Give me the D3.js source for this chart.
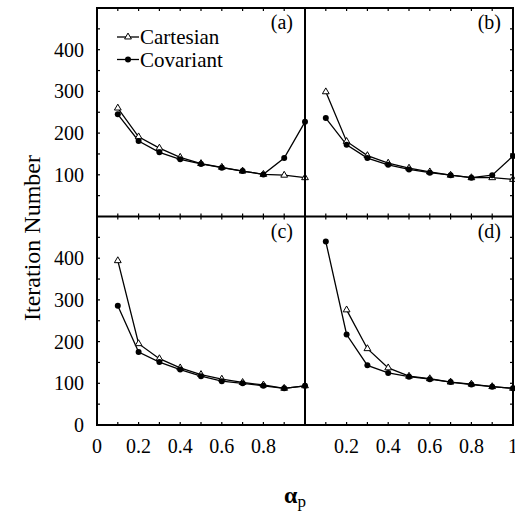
<!DOCTYPE html>
<html>
<head>
<meta charset="utf-8">
<script src="https://cdn.jsdelivr.net/npm/d3@7"></script>
<style>
  body { margin: 0; background: #fff; }
  text { font-family: "Liberation Serif", "DejaVu Serif", serif; fill: #000; }
</style>
</head>
<body>
<div id="chart"></div>
<script>
// alpha_p values (x) shared by all four panels
var alphaValues = [0.1, 0.2, 0.3, 0.4, 0.5, 0.6, 0.7, 0.8, 0.9, 1.0];

// iteration numbers, one pair of series per panel
var cartesianA = [260, 191, 164, 142, 127, 118, 109, 101, 99, 93];
var covariantA = [245, 181, 154, 137, 126, 117, 109, 101, 140, 227];
var cartesianB = [299, 180, 146, 128, 116, 107, 99, 93, 93, 89];
var covariantB = [236, 172, 140, 124, 113, 105, 99, 93, 99, 145];
var cartesianC = [394, 195, 159, 137, 121, 110, 102, 96, 88, 94];
var covariantC = [286, 175, 151, 133, 117, 105, 100, 94, 88, 94];
var cartesianD = [null, 276, 183, 137, 117, 111, 103, 98, 92, 88];
var covariantD = [440, 217, 143, 125, 116, 110, 103, 97, 92, 88];

var panelLabels = ["(a)", "(b)", "(c)", "(d)"];
var seriesNames = ["Cartesian", "Covariant"];
var yTickLabels = [100, 200, 300, 400];
var xTickLabelsLeft = [0, 0.2, 0.4, 0.6, 0.8];
var xTickLabelsRight = [0.2, 0.4, 0.6, 0.8, 1];

var width = 515, height = 516;
var frameLeft = 97, frameTop = 8, panelW = 208, panelH = 208.5;

var svg = d3.select("#chart").append("svg")
    .attr("width", width)
    .attr("height", height);

var panels = [
    {col: 0, row: 0, cart: cartesianA, cov: covariantA, label: panelLabels[0]},
    {col: 1, row: 0, cart: cartesianB, cov: covariantB, label: panelLabels[1]},
    {col: 0, row: 1, cart: cartesianC, cov: covariantC, label: panelLabels[2]},
    {col: 1, row: 1, cart: cartesianD, cov: covariantD, label: panelLabels[3]}
];

var triangle = d3.symbol().type(d3.symbolTriangle).size(20);

panels.forEach(function (p) {
    var x0 = frameLeft + p.col * panelW;
    var y0 = frameTop + p.row * panelH;

    var xScale = d3.scaleLinear().domain([0, 1]).range([x0, x0 + panelW]);
    var yScale = d3.scaleLinear().domain([0, 500]).range([y0 + panelH, y0]);

    var g = svg.append("g");

    // inward ticks on all four sides
    var xt = d3.range(1, 10).map(function (i) { return i / 10; });
    var yt = d3.range(1, 10).map(function (i) { return i * 50; });
    g.selectAll(".xtb").data(xt).enter().append("line")
        .attr("x1", function (d) { return xScale(d); })
        .attr("x2", function (d) { return xScale(d); })
        .attr("y1", y0 + panelH).attr("y2", y0 + panelH - 3)
        .attr("stroke", "#000").attr("stroke-width", 1.2);
    g.selectAll(".xtt").data(xt).enter().append("line")
        .attr("x1", function (d) { return xScale(d); })
        .attr("x2", function (d) { return xScale(d); })
        .attr("y1", y0).attr("y2", y0 + 3)
        .attr("stroke", "#000").attr("stroke-width", 1.2);
    var sideX = p.col === 0 ? x0 : x0 + panelW;
    var dir = p.col === 0 ? 3 : -3;
    g.selectAll(".yt").data(yt).enter().append("line")
        .attr("x1", sideX).attr("x2", sideX + dir)
        .attr("y1", function (d) { return yScale(d); })
        .attr("y2", function (d) { return yScale(d); })
        .attr("stroke", "#000").attr("stroke-width", 1.2);

    // lines
    var line = d3.line()
        .defined(function (d) { return d[1] !== null; })
        .x(function (d) { return xScale(d[0]); })
        .y(function (d) { return yScale(d[1]); });

    var cartPts = alphaValues.map(function (a, i) { return [a, p.cart[i]]; });
    var covPts = alphaValues.map(function (a, i) { return [a, p.cov[i]]; });

    g.append("path").datum(cartPts).attr("d", line)
        .attr("fill", "none").attr("stroke", "#000").attr("stroke-width", 1.3);
    g.append("path").datum(covPts).attr("d", line)
        .attr("fill", "none").attr("stroke", "#000").attr("stroke-width", 1.3);

    g.selectAll(".tri").data(cartPts.filter(function (d) { return d[1] !== null; }))
        .enter().append("path")
        .attr("d", triangle)
        .attr("transform", function (d) { return "translate(" + xScale(d[0]) + "," + yScale(d[1]) + ")"; })
        .attr("fill", "#fff").attr("stroke", "#000").attr("stroke-width", 1);
    g.selectAll(".dot").data(covPts)
        .enter().append("circle")
        .attr("cx", function (d) { return xScale(d[0]); })
        .attr("cy", function (d) { return yScale(d[1]); })
        .attr("r", 3)
        .attr("fill", "#000");

    g.append("text")
        .attr("x", x0 + panelW - 12)
        .attr("y", y0 + 21)
        .attr("text-anchor", "end")
        .attr("font-size", 20)
        .text(p.label);

    // y tick labels for left column
    if (p.col === 0) {
        var ylabels = p.row === 1 ? [0].concat(yTickLabels) : yTickLabels;
        g.selectAll(".yl").data(ylabels).enter().append("text")
            .attr("x", x0 - 13)
            .attr("y", function (d) { return yScale(d); })
            .attr("dy", "0.35em")
            .attr("text-anchor", "end")
            .attr("font-size", 20)
            .text(function (d) { return d; });
    }

    // x tick labels for bottom row
    if (p.row === 1) {
        var xlabels = p.col === 0 ? xTickLabelsLeft : xTickLabelsRight;
        g.selectAll(".xl").data(xlabels).enter().append("text")
            .attr("x", function (d) { return xScale(d); })
            .attr("y", y0 + panelH + 28)
            .attr("text-anchor", "middle")
            .attr("font-size", 20)
            .text(function (d) { return d; });
    }
});

// frame and dividing lines
svg.append("rect")
    .attr("x", frameLeft).attr("y", frameTop)
    .attr("width", 2 * panelW).attr("height", 2 * panelH)
    .attr("fill", "none").attr("stroke", "#000").attr("stroke-width", 2);
svg.append("line")
    .attr("x1", frameLeft + panelW).attr("x2", frameLeft + panelW)
    .attr("y1", frameTop).attr("y2", frameTop + 2 * panelH)
    .attr("stroke", "#000").attr("stroke-width", 2);
svg.append("line")
    .attr("x1", frameLeft).attr("x2", frameLeft + 2 * panelW)
    .attr("y1", frameTop + panelH).attr("y2", frameTop + panelH)
    .attr("stroke", "#000").attr("stroke-width", 2);

// legend in panel (a)
var legend = svg.append("g");
seriesNames.forEach(function (name, i) {
    var ly = 37 + i * 22.5;
    legend.append("line")
        .attr("x1", 117).attr("x2", 139)
        .attr("y1", ly).attr("y2", ly)
        .attr("stroke", "#000").attr("stroke-width", 1.3);
    if (i === 0) {
        legend.append("path").attr("d", triangle)
            .attr("transform", "translate(128," + ly + ")")
            .attr("fill", "#fff").attr("stroke", "#000").attr("stroke-width", 1);
    } else {
        legend.append("circle").attr("cx", 128).attr("cy", ly).attr("r", 3).attr("fill", "#000");
    }
    legend.append("text")
        .attr("x", 140).attr("y", ly + 7)
        .attr("font-size", 21)
        .text(name);
});

// axis titles
svg.append("text")
    .attr("transform", "translate(40,238) rotate(-90)")
    .attr("text-anchor", "middle")
    .attr("font-size", 24)
    .text("Iteration Number");

var xTitle = svg.append("text")
    .attr("x", 284).attr("y", 503)
    .attr("font-size", 24).attr("font-weight", "bold");
xTitle.append("tspan").text("α");
xTitle.append("tspan").attr("font-size", 17).attr("font-weight", "normal").attr("dy", 4).text("p");
</script>
</body>
</html>
